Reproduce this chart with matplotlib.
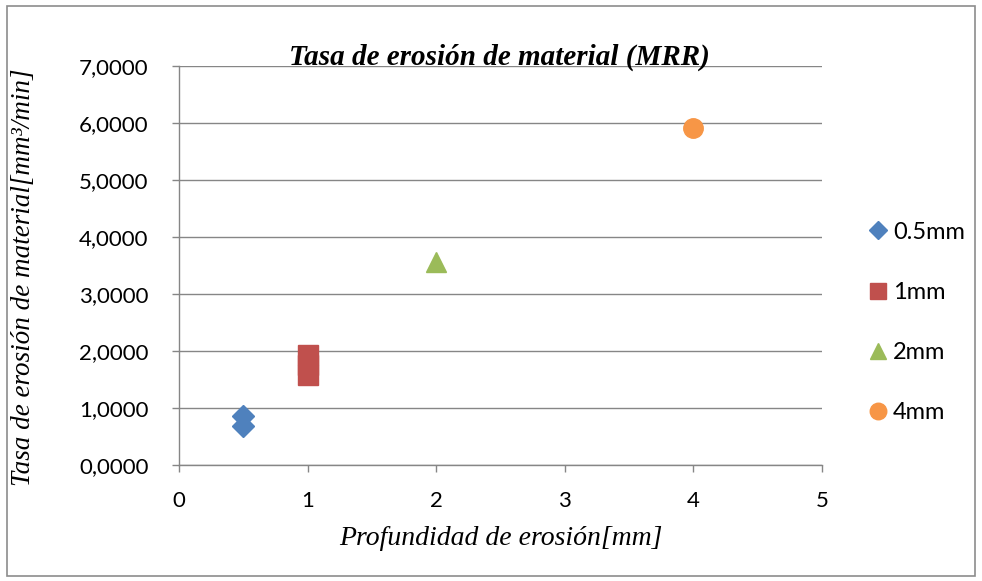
import matplotlib.pyplot as plt
from matplotlib.patches import Rectangle
from matplotlib.ticker import FuncFormatter

# datos
series = ["0.5mm", "1mm", "2mm", "4mm"]
x_05 = [0.5, 0.5]
y_05 = [0.86, 0.69]
x_1 = [1, 1, 1]
y_1 = [1.93, 1.75, 1.58]
x_2 = [2]
y_2 = [3.56]
x_4 = [4]
y_4 = [5.91]

colores = ["#4F81BD", "#C0504D", "#9BBB59", "#F79646"]
marcadores = ["D", "s", "^", "o"]
tamanos = [11, 14, 14, 14]

fig = plt.figure(figsize=(9.82, 5.81), dpi=100)
ax = fig.add_axes([0.1823, 0.1997, 0.837 - 0.1823, 0.8864 - 0.1997])

# marco de la figura
fig.patches.append(Rectangle((0.007, 0.009), 0.986, 0.981, transform=fig.transFigure,
                             fill=False, edgecolor="#8c8c8c", linewidth=1.2))

datos = [(x_05, y_05), (x_1, y_1), (x_2, y_2), (x_4, y_4)]
for (xs, ys), nombre, c, m, s in zip(datos, series, colores, marcadores, tamanos):
    ax.plot(xs, ys, linestyle="none", marker=m, markersize=s, color=c,
            markeredgecolor=c, label=nombre, zorder=3)

ax.set_xlim(0, 5)
ax.set_ylim(0, 7)
ax.set_xticks(range(0, 6))
ax.set_yticks(range(0, 8))
ax.yaxis.set_major_formatter(FuncFormatter(lambda v, p: f"{v:.4f}".replace(".", ",")))
ax.grid(axis="y", color="#868686", linewidth=1.0)
ax.set_axisbelow(True)

for lado in ["top", "right"]:
    ax.spines[lado].set_visible(False)
for lado in ["left", "bottom"]:
    ax.spines[lado].set_color("#868686")
    ax.spines[lado].set_linewidth(1.0)
ax.tick_params(axis="both", colors="#868686", length=5, width=1.0,
               labelcolor="black", labelsize=16)
ax.tick_params(axis="y", pad=17)
ax.tick_params(axis="x", pad=14)
for lab in ax.get_xticklabels() + ax.get_yticklabels():
    lab.set_fontfamily("Lato")

fig.text(0.509, 0.902, "Tasa de erosión de material (MRR)", family="Liberation Serif",
         style="italic", weight="bold", fontsize=21, ha="center", va="center")
ax.set_xlabel("Profundidad de erosión[mm]", family="Liberation Serif",
              style="italic", fontsize=20)
ax.xaxis.set_label_coords(0.5, -0.152)
ax.set_ylabel("Tasa de erosión de material[mm³/min]", family="Liberation Serif",
              style="italic", fontsize=19.5)
ax.yaxis.set_label_coords(-0.222, 0.471)

leg = ax.legend(loc="center left", bbox_to_anchor=(0.8845, 0.445),
                bbox_transform=fig.transFigure, frameon=False,
                prop={"family": "Lato", "size": 17}, labelspacing=1.66,
                handletextpad=0.23, handlelength=0.8, markerscale=0.85,
                borderpad=0, borderaxespad=0)

fig.savefig("out.png", dpi=100)
